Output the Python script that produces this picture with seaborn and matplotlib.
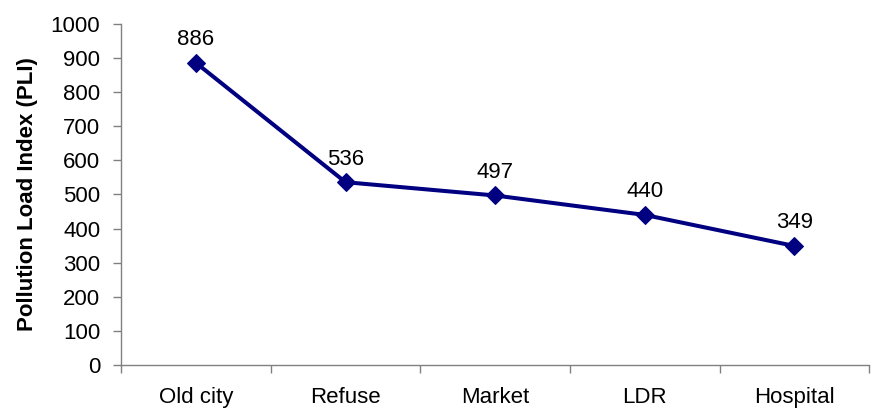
import matplotlib
matplotlib.use("Agg")
import matplotlib.pyplot as plt
import seaborn as sns
import pandas as pd

sites = ["Old city", "Refuse", "Market", "LDR", "Hospital"]
pli = [886, 536, 497, 440, 349]
y_ticks = [0, 100, 200, 300, 400, 500, 600, 700, 800, 900, 1000]

sns.set_theme(style="white")
plt.rcParams["font.family"] = ["Liberation Sans", "DejaVu Sans"]
plt.rcParams["text.color"] = "black"
plt.rcParams["axes.labelcolor"] = "black"
plt.rcParams["xtick.color"] = "black"
plt.rcParams["ytick.color"] = "black"

df = pd.DataFrame({"site": sites, "pli": pli, "pos": range(len(sites))})

fig = plt.figure(figsize=(8.71, 4.12), dpi=100)
ax = fig.add_axes([0.139, 0.114, 0.859, 0.828])

sns.lineplot(data=df, x="pos", y="pli", ax=ax, color="#000080",
             linewidth=2.9, marker="D", markersize=9,
             markeredgecolor="#000080", markerfacecolor="#000080")

for x, y in zip(df["pos"], df["pli"]):
    ax.annotate(str(y), (x, y), xytext=(0, 9), textcoords="offset points",
                ha="center", va="bottom", fontsize=16, color="black")

ax.set_xlim(-0.5, len(sites) - 0.5)
ax.set_ylim(0, 1000)
ax.set_yticks(y_ticks)
ax.set_yticklabels([str(v) for v in y_ticks], fontsize=16)

# category labels centred, tick marks on category boundaries
ax.set_xticks([i - 0.5 for i in range(len(sites) + 1)])
ax.set_xticklabels([])
ax.set_xticks(list(range(len(sites))), minor=True)
ax.set_xticklabels(sites, minor=True, fontsize=16)
ax.tick_params(axis="x", which="minor", bottom=True, length=0, pad=16, labelcolor="black")
ax.tick_params(axis="x", which="major", bottom=True, length=6, width=1,
               color="#808080", direction="out")
ax.tick_params(axis="y", which="major", left=True, length=6, width=1,
               color="#808080", direction="out", pad=9, labelcolor="black")

ax.set_xlabel("")
ax.set_ylabel("Pollution Load Index (PLI)", fontsize=16, fontweight="bold",
              labelpad=9, color="black")

for side in ["top", "right"]:
    ax.spines[side].set_visible(False)
for side in ["left", "bottom"]:
    ax.spines[side].set_color("#808080")
    ax.spines[side].set_linewidth(1)

fig.savefig("out.png", dpi=100)
